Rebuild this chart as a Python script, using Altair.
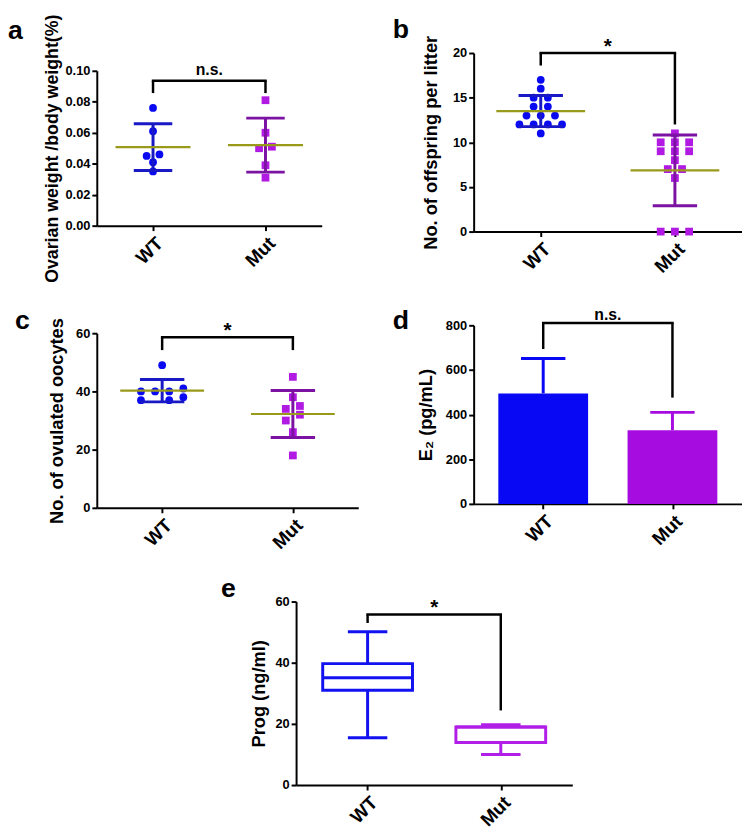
import altair as alt
import pandas as pd

FONT = "Liberation Sans"
GROUPS = ["WT", "Mut"]

# ---------------- data ----------------
# a: ovarian weight / body weight (%)
a_wt = [0.076, 0.061, 0.045, 0.046, 0.041, 0.035]
a_wt_slot = [0, 0, -1, 1, 0, 0]
a_mut = [0.081, 0.060, 0.050, 0.051, 0.039, 0.031]
a_mut_slot = [0, 0, -1, 1, 0, 0]
a_ticks = [0.0, 0.02, 0.04, 0.06, 0.08, 0.10]
a_bracket = [0.0856, 0.0856, 0.0935]   # WT leg end, Mut leg end, bar level
a_sig = ["n.s.", 0.0975]

# b: offspring per litter
b_wt = [17, 16, 15, 15, 14, 14, 13, 13, 13, 12, 12, 12, 12, 11]
b_wt_slot = [0, 0, -1, 1, -1, 1, -2, 0, 2, -3, -1, 1, 3, 0]
b_mut = [11, 10, 10, 10, 9, 9, 9, 8, 7, 7, 6, 0, 0, 0]
b_mut_slot = [0, -2, 0, 2, -2, 0, 2, 0, -1, 1, 0, -2, 0, 2]
b_ticks = [0, 5, 10, 15, 20]
b_bracket = [18.6, 12.0, 20.0]
b_sig = ["*", 20.0]

# c: ovulated oocytes
c_wt = [49, 40, 40, 40, 41, 37, 37, 38]
c_wt_slot = [0, -3, -1, 1, 3, -3, 1, 3]
c_mut = [45, 38, 35, 34, 32, 30, 26, 18]
c_mut_slot = [0, 0, 1, -1, 1, -1, 0, 0]
c_ticks = [0, 20, 40, 60]
c_bracket = [54.2, 54.2, 58.6]
c_sig = ["*", 58.6]

# d: E2 (pg/mL), mean and SD
d_mean = [495, 330]
d_sd = [156, 80]
d_ticks = [0, 200, 400, 600, 800]
d_bracket = [694, 476, 810]
d_sig = ["n.s.", 826]

# e: Prog (ng/ml), box summaries
e_min = [15.5, 10.0]
e_q1 = [31.0, 13.9]
e_med = [35.1, 19.0]
e_q3 = [39.7, 19.0]
e_max = [50.1, 19.7]
e_ticks = [0, 20, 40, 60]
e_bracket = [53.0, 24.4, 55.8]
e_sig = ["*", 55.8]

# ---------------- styles ----------------
PT_COL = ["#0a0af2", "#b01ae2"]
ERR_COL = ["#1818c4", "#7c12a2"]
MEAN_COL = "#9a9a1a"
BAR_COL = ["#0808f5", "#a60ce0"]
BOX_COL = ["#1212f0", "#b01ee8"]


def xaxis():
    return alt.Axis(values=[0, 1], labelExpr="datum.value == 0 ? 'WT' : 'Mut'",
                    title=None, labelAngle=-45, labelAlign="right", labelBaseline="top",
                    labelFontSize=19, labelPadding=3, grid=False)


def make_scales(ydom, yrange):
    xs = alt.Scale(domain=[-0.5, 1.5], nice=False, zero=False)
    ys = alt.Scale(domain=ydom, range=yrange, nice=False, zero=False)
    return xs, ys


def yaxis(ticks, fmt, title, pad, tsize=18.5):
    return alt.Axis(values=ticks, format=fmt, title=title, titlePadding=pad, grid=False,
                    titleFontSize=tsize)


def bracket_layers(bracket, sig, xs, ys, sigsize, ya):
    br = pd.DataFrame({"gi": [0, 1], "leg": bracket[:2], "top": [bracket[2]] * 2})
    legs = alt.Chart(br).mark_rule(strokeWidth=2.5, color="black").encode(
        x=alt.X("gi:Q", scale=xs, axis=xaxis()),
        y=alt.Y("leg:Q", scale=ys, axis=ya), y2="top:Q")
    across = alt.Chart(br).transform_aggregate(
        x0="min(gi)", x1="max(gi)", top="max(top)").mark_rule(
        strokeWidth=2.5, color="black", strokeCap="square").encode(
        x=alt.X("x0:Q", scale=xs, axis=xaxis()), x2="x1:Q",
        y=alt.Y("top:Q", scale=ys, axis=ya))
    sd = pd.DataFrame({"gi": [0, 1], "ty": [sig[1]] * 2})
    txt = alt.Chart(sd).transform_aggregate(xm="mean(gi)", ty="max(ty)").mark_text(
        text=sig[0], fontSize=sigsize, fontWeight="bold", font=FONT, baseline="alphabetic",
        color="black").encode(
        x=alt.X("xm:Q", scale=xs, axis=xaxis()),
        y=alt.Y("ty:Q", scale=ys, axis=ya))
    return [legs, across, txt]


def letter(t, dx, dy):
    return alt.TitleParams(text=t, anchor="start", frame="group", fontSize=27, fontWeight="bold",
                           font=FONT, dx=dx, dy=dy, baseline="alphabetic", color="black", offset=0)


def scatter_panel(wt, wts, mut, muts, step, ticks, fmt, ytitle, tpad, tsize, width, height,
                  yrange, mean_w, cap_w, bracket, sig, sigsize, title):
    ydom = [ticks[0], ticks[-1]]
    xs, ys = make_scales(ydom, yrange)
    ya = yaxis(ticks, fmt, ytitle, tpad, tsize)
    df = pd.DataFrame({
        "group": ["WT"] * len(wt) + ["Mut"] * len(mut),
        "gi": [0] * len(wt) + [1] * len(mut),
        "value": wt + mut,
        "slot": wts + muts,
    })
    base = alt.Chart(df)
    stats = base.transform_aggregate(
        mean="mean(value)", sd="stdev(value)", groupby=["group", "gi"]).transform_calculate(
        lo="datum.mean - datum.sd", hi="datum.mean + datum.sd")
    ecol = alt.Color("group:N", scale=alt.Scale(domain=GROUPS, range=ERR_COL), legend=None)
    sd_rule = stats.mark_rule(strokeWidth=3, opacity=1).encode(
        x=alt.X("gi:Q", scale=xs, axis=xaxis()),
        y=alt.Y("lo:Q", scale=ys, axis=ya), y2="hi:Q", color=ecol)
    caps = stats.transform_fold(["lo", "hi"], as_=["which", "cap"]).mark_tick(
        orient="horizontal", size=cap_w, thickness=3, opacity=1).encode(
        x=alt.X("gi:Q", scale=xs, axis=xaxis()),
        y=alt.Y("cap:Q", scale=ys, axis=ya), color=ecol)
    pts = base.transform_calculate(xp=f"datum.gi + datum.slot * {step}").mark_point(
        filled=True, size=62, opacity=1).encode(
        x=alt.X("xp:Q", scale=xs, axis=xaxis()),
        y=alt.Y("value:Q", scale=ys, axis=ya),
        shape=alt.Shape("group:N", scale=alt.Scale(domain=GROUPS, range=["circle", "square"]),
                        legend=None),
        color=alt.Color("group:N", scale=alt.Scale(domain=GROUPS, range=PT_COL), legend=None))
    mean_t = stats.mark_tick(orient="horizontal", size=mean_w, thickness=2.2, opacity=1,
                             color=MEAN_COL).encode(
        x=alt.X("gi:Q", scale=xs, axis=xaxis()),
        y=alt.Y("mean:Q", scale=ys, axis=ya))
    layers = [pts, sd_rule, caps, mean_t] + bracket_layers(bracket, sig, xs, ys, sigsize, ya)
    return alt.layer(*layers).resolve_scale(color="independent").properties(
        width=width, height=height, title=title)


# panel a
pa = scatter_panel(a_wt, a_wt_slot, a_mut, a_mut_slot, 0.057, a_ticks, ".2f",
                   "Ovarian weight /body weight(%)", 4, 18, 228, 175, [175, 18],
                   76, 39, a_bracket, a_sig, 16, letter("a", -90, 52))
# panel b
pb = scatter_panel(b_wt, b_wt_slot, b_mut, b_mut_slot, 0.053, b_ticks, "d",
                   "No. of offspring per litter", 12, 18.5, 272, 181, [181, 0],
                   90, 45, b_bracket, b_sig, 21, letter("b", -82, 30))
# panel c
pc = scatter_panel(c_wt, c_wt_slot, c_mut, c_mut_slot, 0.054, c_ticks, "d",
                   "No. of ovulated oocytes", 9, 18.5, 265, 185, [185, 8],
                   85, 45, c_bracket, c_sig, 21, letter("c", -83, 39))

# panel d
xs, ys = make_scales([0, 800], [181, 0])
ya = yaxis(d_ticks, "d", "E\u2082 (pg/mL)", 10)
ddf = pd.DataFrame({"group": GROUPS, "gi": [0, 1], "mean": d_mean, "sd": d_sd})
dbase = alt.Chart(ddf).transform_calculate(hi="datum.mean + datum.sd")
dcol = alt.Color("group:N", scale=alt.Scale(domain=GROUPS, range=BAR_COL), legend=None)
d_err = dbase.mark_rule(strokeWidth=3, opacity=1).encode(
    x=alt.X("gi:Q", scale=xs, axis=xaxis()), y=alt.Y("mean:Q", scale=ys, axis=ya), y2="hi:Q",
    color=dcol)
d_cap = dbase.mark_tick(orient="horizontal", size=45, thickness=3, opacity=1).encode(
    x=alt.X("gi:Q", scale=xs, axis=xaxis()), y=alt.Y("hi:Q", scale=ys, axis=ya), color=dcol)
d_bar = dbase.mark_bar(width=91, opacity=1).encode(
    x=alt.X("gi:Q", scale=xs, axis=xaxis()), y=alt.Y("mean:Q", scale=ys, axis=ya), color=dcol)
pd_ = alt.layer(d_err, d_cap, d_bar, *bracket_layers(d_bracket, d_sig, xs, ys, 16, ya)).properties(
    width=272, height=181, title=letter("d", -82, 50))

# panel e
xs, ys = make_scales([0, 60], [186, 0])
ya = yaxis(e_ticks, "d", "Prog (ng/ml)", 7)
edf = pd.DataFrame({"group": GROUPS, "gi": [0, 1], "mn": e_min, "q1": e_q1, "med": e_med,
                    "q3": e_q3, "mx": e_max})
ebase = alt.Chart(edf)
ecol = alt.Stroke("group:N", scale=alt.Scale(domain=GROUPS, range=BOX_COL), legend=None)
ecolc = alt.Color("group:N", scale=alt.Scale(domain=GROUPS, range=BOX_COL), legend=None)
e_w1 = ebase.mark_rule(strokeWidth=3, opacity=1).encode(
    x=alt.X("gi:Q", scale=xs, axis=xaxis()), y=alt.Y("mn:Q", scale=ys, axis=ya), y2="q1:Q",
    stroke=ecol)
e_w2 = ebase.mark_rule(strokeWidth=3, opacity=1).encode(
    x=alt.X("gi:Q", scale=xs, axis=xaxis()), y=alt.Y("q3:Q", scale=ys, axis=ya), y2="mx:Q",
    stroke=ecol)
e_caps = ebase.transform_fold(["mn", "mx"], as_=["which", "cap"]).mark_tick(
    orient="horizontal", size=40, thickness=3, opacity=1).encode(
    x=alt.X("gi:Q", scale=xs, axis=xaxis()), y=alt.Y("cap:Q", scale=ys, axis=ya), color=ecolc)
e_box = ebase.mark_bar(width=91, fill="white", strokeWidth=3, opacity=1).encode(
    x=alt.X("gi:Q", scale=xs, axis=xaxis()), y=alt.Y("q1:Q", scale=ys, axis=ya), y2="q3:Q",
    stroke=ecol)
e_med_t = ebase.mark_tick(orient="horizontal", size=91, thickness=3, opacity=1).encode(
    x=alt.X("gi:Q", scale=xs, axis=xaxis()), y=alt.Y("med:Q", scale=ys, axis=ya), color=ecolc)
pe = alt.layer(e_w1, e_w2, e_caps, e_box, e_med_t,
               *bracket_layers(e_bracket, e_sig, xs, ys, 21, ya)).resolve_scale(
    color="independent", stroke="independent").properties(
    width=280, height=186, title=letter("e", -76, 28))

spacer = alt.Chart(pd.DataFrame({"v": [0]})).mark_point(opacity=0).properties(width=126, height=10)

row1 = alt.hconcat(pa, pb, spacing=72)
row2 = alt.hconcat(pc, pd_, spacing=35)
row3 = alt.hconcat(spacer, pe, spacing=0)
lower = alt.vconcat(row2, row3, spacing=22)

chart = alt.vconcat(row1, lower, spacing=24).properties(
    padding={"top": 0, "left": 0, "right": 0, "bottom": 0}).configure(
    font=FONT).configure_view(stroke=None).configure_axis(
    labelFont=FONT, titleFont=FONT, labelFontWeight="bold", titleFontWeight="bold",
    labelFontSize=13, titleFontSize=18.5, labelColor="black", titleColor="black",
    domainColor="black", domainWidth=2, tickColor="black", tickWidth=2, tickSize=5,
    grid=False)

chart.save("out.html", embed_options={"renderer": "svg", "actions": False})
